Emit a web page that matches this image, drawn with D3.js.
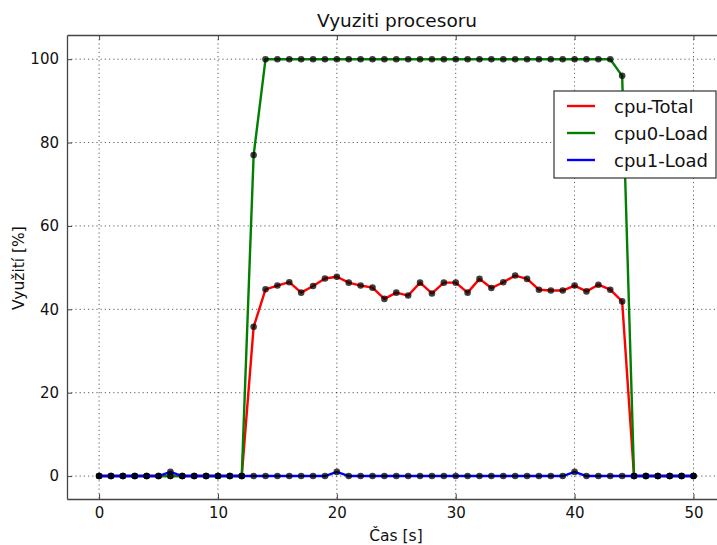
<!DOCTYPE html>
<meta charset="utf-8">
<script src="https://d3js.org/d3.v7.min.js"></script>
<style>
  body { margin: 0; background: #fff; }
  text { font-family: "DejaVu Sans", sans-serif; fill: #111; }
  .grid line { stroke: #000; stroke-dasharray: 1.2,3; stroke-width: 0.8; opacity: 0.8; }
</style>
<body>
<svg width="717" height="545"></svg>
<script>
// sample time [s]
var times = d3.range(0, 51);
var seriesNames = ["cpu-Total", "cpu0-Load", "cpu1-Load"];
var seriesColors = ["#ff0000", "#008000", "#0000ff"];

var cpuTotal = [0,0,0,0,0,0,0,0,0,0,0,0,0,35.8,44.8,45.7,46.5,44.0,45.6,47.4,
  47.8,46.4,45.7,45.2,42.5,44.0,43.3,46.4,43.8,46.4,46.4,44.0,47.3,45.1,46.5,48.1,
  47.3,44.7,44.5,44.5,45.7,44.3,45.9,44.7,41.9,0,0,0,0,0,0];
var cpu0 = [0,0,0,0,0,0,0,0,0,0,0,0,0,77,100,100,100,100,100,100,
  100,100,100,100,100,100,100,100,100,100,100,100,100,100,100,100,
  100,100,100,100,100,100,100,100,96,0,0,0,0,0,0];
var cpu1 = [0,0,0,0,0,0,1,0,0,0,0,0,0,0,0,0,0,0,0,0,
  1,0,0,0,0,0,0,0,0,0,0,0,0,0,0,0,
  0,0,0,0,1,0,0,0,0,0,0,0,0,0,0];

var xTicks = [0, 10, 20, 30, 40, 50];
var yTicks = [0, 20, 40, 60, 80, 100];

var svg = d3.select("svg");
var pLeft = 67, pRight = 722, pTop = 35, pBottom = 499;

var x = d3.scaleLinear().domain([-2.7, 52.4]).range([pLeft, pRight]);
var y = d3.scaleLinear().domain([-5.5, 105.8]).range([pBottom, pTop]);

// grid
var grid = svg.append("g").attr("class", "grid");
grid.selectAll(".gx").data(xTicks).enter().append("line")
  .attr("x1", d => x(d)).attr("x2", d => x(d)).attr("y1", pTop).attr("y2", pBottom);
grid.selectAll(".gy").data(yTicks).enter().append("line")
  .attr("y1", d => y(d)).attr("y2", d => y(d)).attr("x1", pLeft).attr("x2", pRight);

// lines + markers
var data = [cpuTotal, cpu0, cpu1];
var line = d3.line().x((d, i) => x(times[i])).y(d => y(d));
var plot = svg.append("g");
data.forEach(function(vals, k) {
  plot.append("path").datum(vals)
    .attr("d", line)
    .attr("fill", "none")
    .attr("stroke", seriesColors[k])
    .attr("stroke-width", 2.4)
    .attr("stroke-linejoin", "round");
  plot.selectAll(".m" + k).data(vals).enter().append("circle")
    .attr("cx", (d, i) => x(times[i]))
    .attr("cy", d => y(d))
    .attr("r", 3.3)
    .attr("fill", "#000")
    .attr("fill-opacity", 0.75);
});

// axes (ticks inside, on all sides)
var xb = d3.axisBottom(x).tickValues(xTicks).tickSizeInner(-5).tickSizeOuter(0).tickPadding(8);
var xt = d3.axisTop(x).tickValues(xTicks).tickSizeInner(-5).tickSizeOuter(0).tickFormat("");
var yl = d3.axisLeft(y).tickValues(yTicks).tickSizeInner(-5).tickSizeOuter(0).tickPadding(8);

function style(g) {
  g.select(".domain").attr("stroke", "#444").attr("stroke-width", 1.3);
  g.selectAll(".tick line").attr("stroke", "#444");
  g.selectAll("text").attr("font-size", 15).attr("font-family", "DejaVu Sans").attr("fill", "#111");
}
svg.append("g").attr("transform", "translate(0," + pBottom + ")").call(xb).call(style);
svg.append("g").attr("transform", "translate(0," + pTop + ")").call(xt).call(style);
svg.append("g").attr("transform", "translate(" + pLeft + ",0)").call(yl).call(style);

// labels
svg.append("text").attr("x", 397).attr("y", 27).attr("text-anchor", "middle")
  .attr("font-size", 18.5).text("Vyuziti procesoru");
svg.append("text").attr("x", 396).attr("y", 541).attr("text-anchor", "middle")
  .attr("font-size", 15.5).text("Čas [s]");
svg.append("text").attr("transform", "translate(24,268) rotate(-90)").attr("text-anchor", "middle")
  .attr("font-size", 15.5).text("Využití [%]");

// legend
var lg = svg.append("g").attr("transform", "translate(554,91)");
lg.append("rect").attr("width", 162).attr("height", 87)
  .attr("fill", "#fff").attr("stroke", "#333").attr("stroke-width", 1.2);
seriesNames.forEach(function(n, i) {
  var yy = 15 + i * 27;
  lg.append("line").attr("x1", 13).attr("x2", 41).attr("y1", yy).attr("y2", yy)
    .attr("stroke", seriesColors[i]).attr("stroke-width", 2.4);
  lg.append("text").attr("x", 60).attr("y", yy + 6.5).attr("font-size", 18).text(n);
});
</script>
</body>
